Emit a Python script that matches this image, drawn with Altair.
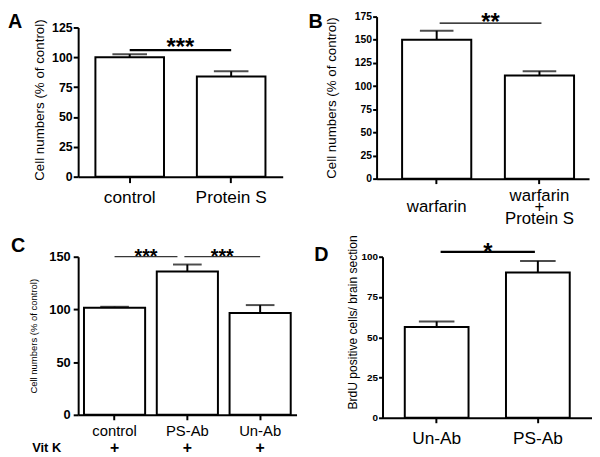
import altair as alt
import pandas as pd

FONT = "Liberation Sans"

# ---------------- data ----------------
a_cats = ["control", "Protein S"]
a_means = [100, 84]
a_errs = [2.6, 4.3]
a_sig_start = ["control"]
a_sig_end = ["Protein S"]
a_sig_y = [106]
a_sig_label = ["***"]

b_cats = ["warfarin", "warfarin + Protein S"]
b_means = [150, 111.5]
b_errs = [9.7, 4.5]
b_sig_start = ["warfarin"]
b_sig_end = ["warfarin + Protein S"]
b_sig_y = [168]
b_sig_label = ["**"]

c_cats = ["control", "PS-Ab", "Un-Ab"]
c_means = [101.5, 136, 96.5]
c_errs = [1.0, 6.6, 7.6]
c_vitk = ["+", "+", "+"]
c_sig_start = ["control", "PS-Ab"]
c_sig_end = ["PS-Ab", "Un-Ab"]
c_sig_y = [150, 150]
c_sig_label = ["***", "***"]

d_cats = ["Un-Ab", "PS-Ab"]
d_means = [56.4, 90.2]
d_errs = [3.4, 7.2]
d_sig_start = ["Un-Ab"]
d_sig_end = ["PS-Ab"]
d_sig_y = [103]
d_sig_label = ["*"]


def make_panel(cats, means, errs, s_start, s_end, s_y, s_lab, letter, P):
    df = pd.DataFrame({"cat": cats, "mean": means,
                       "upper": [m + e for m, e in zip(means, errs)]})
    al = P.get("align", 0.5)
    xs = alt.Scale(domain=cats, paddingInner=P["pi"], paddingOuter=P["po"], align=al)
    if "ytop" in P:
        ys = alt.Scale(domain=[0, P["ymax"]], nice=False, zero=True,
                       range=[P["height"], P["ytop"]])
    else:
        ys = alt.Scale(domain=[0, P["ymax"]], nice=False, zero=True)
    xkw = dict(orient="bottom", title=None, labelAngle=0, labelFont=FONT,
               labelFontSize=P["xfs"], labelColor="black", labelPadding=P["xpad"],
               tickSize=P["xtick"], tickWidth=2, tickColor="black",
               domainColor="black", domainWidth=2, grid=False,
               labelBaseline="top")
    if "xexpr" in P:
        xkw["labelExpr"] = P["xexpr"]
        xkw["labelLineHeight"] = P["xlh"]
    xaxis = alt.Axis(**xkw)
    ykw = dict(orient="left", values=P["yticks"], title=P["ytitle"],
               titleFont=FONT, titleFontSize=P["tfs"], titleFontWeight="normal",
               titleColor="black", titlePadding=P["tpad"],
               labelFont=FONT, labelFontSize=P["lfs"], labelFontWeight="bold",
               labelColor="black", labelPadding=P["lpad"], tickSize=P["ytick"],
               tickWidth=2, tickColor="black", domainColor="black", domainWidth=2,
               grid=False)
    if "titleY" in P:
        ykw["titleY"] = P["titleY"]
    yaxis = alt.Axis(**ykw)

    X = alt.X("cat:N", scale=xs, axis=xaxis)
    bars = alt.Chart(df).mark_bar(fill="white", stroke="black", strokeWidth=2).encode(
        x=X, y=alt.Y("mean:Q", scale=ys, axis=yaxis))
    errl = alt.Chart(df).mark_rule(color="black", strokeWidth=2).encode(
        x=X, y=alt.Y("mean:Q", scale=ys, axis=yaxis), y2="upper:Q")
    cap = alt.Chart(df).mark_tick(color="black", thickness=2, size=P["cap"]).encode(
        x=X, y=alt.Y("upper:Q", scale=ys, axis=yaxis))
    layers = [bars, errl, cap]

    n = len(cats)
    step = P["width"] / (n - P["pi"] + 2 * P["po"])
    for i in range(len(s_start)):
        sdf = pd.DataFrame({"start": [s_start[i]], "end": [s_end[i]],
                            "y": [s_y[i]], "label": [s_lab[i]]})
        xo, x2o = P["soff"][i]
        rule = alt.Chart(sdf).mark_rule(color="black", strokeWidth=P["sigw"],
                                        xOffset=xo, x2Offset=x2o).encode(
            x=alt.X("start:N", scale=xs, axis=xaxis), x2="end:N",
            y=alt.Y("y:Q", scale=ys, axis=yaxis))
        span = cats.index(s_end[i]) - cats.index(s_start[i])
        mid = step * span / 2 + (xo + x2o) / 2
        star = alt.Chart(sdf).mark_text(font=FONT, fontWeight="bold",
                                        fontSize=P["sfs"], color="black",
                                        baseline="middle", xOffset=mid,
                                        dy=P["sdy"]).encode(
            x=alt.X("start:N", scale=xs, axis=xaxis),
            y=alt.Y("y:Q", scale=ys, axis=yaxis), text="label:N")
        layers += [rule, star]

    let = alt.Chart(pd.DataFrame({"t": [letter]})).mark_text(
        align="left", baseline="top", font=FONT, fontSize=20, fontWeight="bold",
        color="black").encode(x=alt.value(P["lx"]), y=alt.value(P["ly"]), text="t:N")
    layers.append(let)
    return df, xs, alt.layer(*layers)


PA = dict(width=207, height=162, ytop=11, ymax=125, yticks=[0, 25, 50, 75, 100, 125],
          pi=0.324, po=0.17, cap=35, sigw=2.2, sfs=24, sdy=-2, soff=[(0, 0)],
          ytitle="Cell numbers (% of control)", tfs=13.5, tpad=5, titleY=84,
          lfs=12.5, lpad=1, ytick=5,
          xfs=17.5, xtick=6, xpad=6, lx=-71, ly=-4)
PB = dict(width=215, height=164, ymax=175, yticks=[0, 25, 50, 75, 100, 125, 150, 175],
          pi=0.327, po=0.197, align=0.63, cap=34, sigw=1.3, sfs=24, sdy=0, soff=[(3, 2)],
          ytitle="Cell numbers (% of control)", tfs=13.5, tpad=16,
          lfs=10.5, lpad=1, ytick=4,
          xfs=17, xtick=5, xpad=4,
          xexpr="datum.label == 'warfarin + Protein S' ? ['warfarin', '+', 'Protein S'] : ['', datum.label]",
          xlh=11.5, lx=-69, ly=-4)
PC = dict(width=221, height=160, ymax=150, yticks=[0, 50, 100, 150],
          pi=0.16, po=0.08, cap=29, sigw=1, sfs=20, sdy=0, soff=[(0, -10), (-3, 0)],
          ytitle="Cell numbers (% of control)", tfs=9.6, tpad=10,
          lfs=13, lpad=3, ytick=5,
          xfs=15, xtick=5, xpad=4, lx=-68, ly=-21)
PD = dict(width=212, height=163, ymax=100, yticks=[0, 25, 50, 75, 100],
          pi=0.37, po=0.22, cap=36, sigw=2.2, sfs=24, sdy=1, soff=[(4, -3)],
          ytitle="BrdU positive cells/ brain section", tfs=12.2, tpad=2, titleY=66,
          lfs=10, lpad=1, ytick=4,
          xfs=17.5, xtick=5, xpad=7, lx=-69, ly=-12)

_, _, A = make_panel(a_cats, a_means, a_errs, a_sig_start, a_sig_end, a_sig_y, a_sig_label, "A", PA)
_, _, B = make_panel(b_cats, b_means, b_errs, b_sig_start, b_sig_end, b_sig_y, b_sig_label, "B", PB)
cdf, cxs, Cin = make_panel(c_cats, c_means, c_errs, c_sig_start, c_sig_end, c_sig_y, c_sig_label, "C", PC)
_, _, D = make_panel(d_cats, d_means, d_errs, d_sig_start, d_sig_end, d_sig_y, d_sig_label, "D", PD)

cdf["vitk"] = c_vitk
plus_axis = alt.Axis(orient="bottom", offset=28, domain=False, ticks=False, tickSize=0,
                     labelPadding=5, labelBaseline="middle", labelExpr="'+'",
                     labelFont=FONT, labelFontWeight="bold", labelFontSize=16,
                     labelColor="black", labelAngle=0, grid=False,
                     title="Vit K", titleX=-47, titleY=5, titleAlign="left",
                     titleBaseline="middle", titleAngle=0, titleFont=FONT,
                     titleFontSize=13, titleFontWeight="bold", titleColor="black")
plus = alt.Chart(cdf).mark_text(opacity=0).encode(
    x=alt.X("cat:N", scale=cxs, axis=plus_axis), text="vitk:N")
C = alt.layer(Cin, plus).resolve_axis(x="independent")

A = A.properties(width=PA["width"], height=PA["height"])
B = B.properties(width=PB["width"], height=PB["height"])
C = C.properties(width=PC["width"], height=PC["height"])
D = D.properties(width=PD["width"], height=PD["height"])

row1 = alt.hconcat(A, B, spacing=26)
row2 = alt.hconcat(C, D, spacing=18)
chart = alt.vconcat(row1, row2, spacing=8).properties(
    padding=0, background="white").configure_view(stroke=None)

chart.save("out.html", embed_options={"renderer": "svg", "actions": False})
